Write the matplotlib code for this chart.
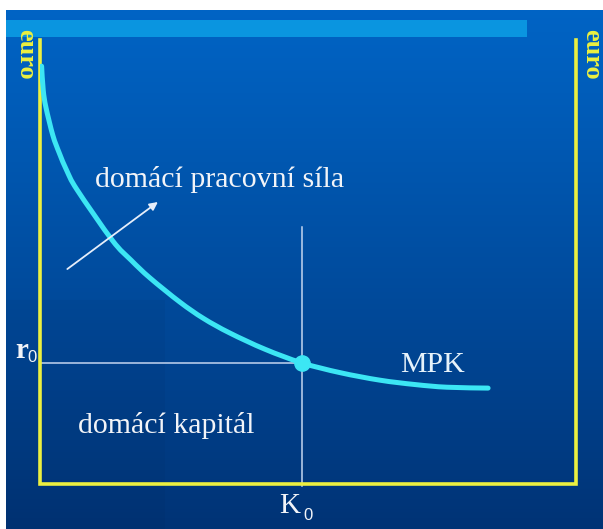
import numpy as np
import matplotlib

matplotlib.use("Agg")
import matplotlib.pyplot as plt
from matplotlib.path import Path
from matplotlib.patches import PathPatch

plt.rcParams["font.family"] = ["Liberation Serif", "DejaVu Serif"]

# MPK curve (K on x, r on y; both axes run 0..10)
mpk_k = [0.03, 0.06, 0.11, 0.24, 0.36, 0.50, 0.69, 1.35, 1.70, 2.05, 2.61,
         3.05, 3.54, 4.20, 4.89, 5.60, 6.34, 7.00, 7.59, 8.36]
mpk_r = [9.52, 8.98, 8.59, 7.95, 7.55, 7.15, 6.72, 5.57, 5.12, 4.72, 4.17,
         3.80, 3.47, 3.10, 2.79, 2.57, 2.40, 2.30, 2.24, 2.22]
k0, r0 = 4.89, 2.79
k0_line_top = 5.87
arrow_tail = (0.51, 4.92)
arrow_head = (2.20, 6.44)
x_lim = (0, 10)
y_lim = (0, 10)


def smooth_path(xs, ys):
    """Catmull-Rom through the read points, drawn as cubic bezier segments."""
    pts = np.column_stack([xs, ys])
    verts, codes = [pts[0]], [Path.MOVETO]
    for i in range(len(pts) - 1):
        p0 = pts[max(i - 1, 0)]
        p1, p2 = pts[i], pts[i + 1]
        p3 = pts[min(i + 2, len(pts) - 1)]
        verts += [p1 + (p2 - p0) / 6, p2 - (p3 - p1) / 6, p2]
        codes += [Path.CURVE4] * 3
    return Path(verts, codes)


W, H = 603, 529
fig = plt.figure(figsize=(W / 100, H / 100), dpi=100)
fig.patch.set_facecolor("white")

# background: blue slide gradient, drawn in pixel space
bg = fig.add_axes([0, 0, 1, 1])
bg.set_xlim(0, W)
bg.set_ylim(H, 0)
bg.axis("off")
rows = np.linspace(0, 1, 256)[:, None]
top = np.array([0.0, 0.39, 0.77])
bot = np.array([0.0, 0.20, 0.46])
grad = top + (bot - top) * rows[..., None] ** 1.1
grad = np.repeat(grad, 2, axis=1)
bg.imshow(grad, extent=(6, W, H, 10), aspect="auto", zorder=0)
# slightly darker band on the lower left
bg.fill_between([6, 165], 300, H, color="#001a40", alpha=0.06, lw=0, zorder=1)
bg.fill_between([6, 527], 20, 37, color="#0a95e0", lw=0, zorder=2)

ax = fig.add_axes([40 / W, (H - 486) / H, 536 / W, 441 / H])
ax.set_xlim(*x_lim)
ax.set_ylim(*y_lim)
ax.axis("off")

yellow = "#ecf040"
ax.plot([0, 0, 10, 10], [10.12, 0.05, 0.05, 10.12], color=yellow, lw=2.6,
        clip_on=False, solid_joinstyle="miter", zorder=3)

guide = "#c4d6f0"
ax.plot([0, k0], [r0, r0], color=guide, lw=1.1, zorder=2)
ax.plot([k0, k0], [0, k0_line_top], color=guide, lw=1.1, clip_on=False, zorder=2)

cyan = "#3ce6f4"
ax.add_patch(PathPatch(smooth_path(mpk_k, mpk_r), fc="none", ec=cyan, lw=3.6,
                       capstyle="round", zorder=4))
ax.plot([k0], [r0], "o", ms=11, color=cyan, zorder=5)

ax.annotate("", xy=arrow_head, xytext=arrow_tail,
            arrowprops=dict(arrowstyle="-|>", color="#e6eefa", lw=1.3,
                            mutation_scale=12, shrinkA=0, shrinkB=0), zorder=5)

white = "#f2f4f8"
ax.text(1.03, 6.94, "domácí pracovní síla", color=white, fontsize=21.5,
        ha="left", va="center")
ax.text(6.72, 2.74, "MPK", color="#e6f2fa", fontsize=21.5, ha="left", va="center")
ax.text(0.71, 1.38, "domácí kapitál", color=white, fontsize=21.5,
        ha="left", va="center")

# axis value labels: serif letter with a sans subscript, as on the slide
fig.text(22 / W, 1 - 350 / H, "r", color=white, fontsize=21, ha="center",
         va="center", weight="bold")
fig.text(31.5 / W, 1 - 358 / H, "0", color=white, fontsize=12, ha="center",
         va="center", family="Liberation Sans")
fig.text(290 / W, 1 - 506 / H, "K", color=white, fontsize=21, ha="center",
         va="center")
fig.text(307.5 / W, 1 - 516 / H, "0", color=white, fontsize=12, ha="center",
         va="center", family="Liberation Sans")

fig.text(25.5 / W, 1 - 54.5 / H, "euro", color=yellow, fontsize=19, weight="bold",
         rotation=-90, ha="center", va="center")
fig.text(592 / W, 1 - 54.5 / H, "euro", color=yellow, fontsize=19, weight="bold",
         rotation=-90, ha="center", va="center")

fig.savefig("out.png", dpi=100)
